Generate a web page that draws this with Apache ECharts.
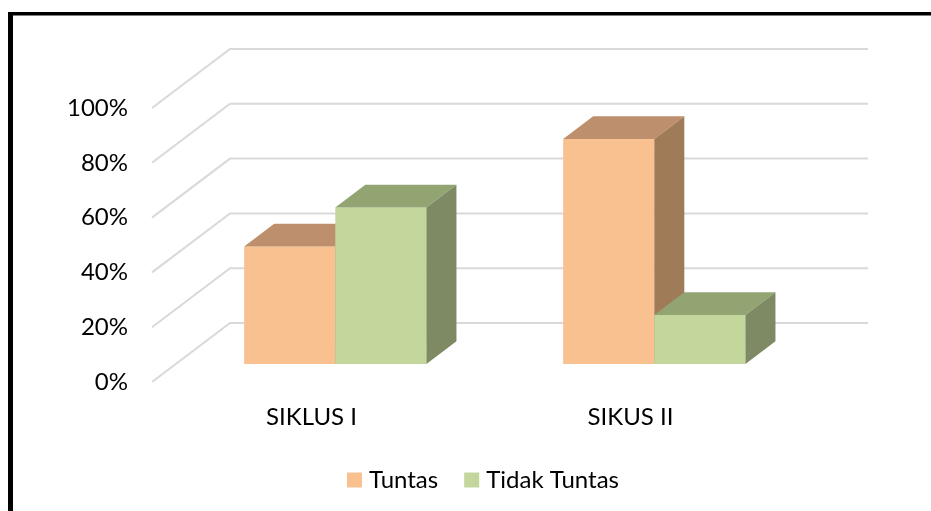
<!DOCTYPE html>
<html>
<head>
<meta charset="utf-8">
<title>Siklus chart</title>
<script src="https://cdn.jsdelivr.net/npm/echarts@6/dist/echarts.min.js"></script>
<style>
  html, body { margin: 0; padding: 0; background: #fff; }
  #chart { width: 931px; height: 511px; }
</style>
</head>
<body>
<div id="chart"></div>
<script>
// data
const categories = ['SIKLUS I', 'SIKUS II'];
const tuntas = [42.86, 82.14];
const tidakTuntas = [57.14, 17.86];
const yTicks = [0, 20, 40, 60, 80, 100];

// 3d look: full depth of the box in px, and where the bars sit inside it
const DEPTH = [78, -59];
const F0 = 0.305, F1 = 0.69;

const colors = {
    tuntas: { front: '#F9C18F', top: '#BE8F6C', side: '#9F7B58' },
    tidak: { front: '#C3D69B', top: '#93A473', side: '#7E8A63' }
};

function wallItem(params, api) {
    const cs = params.coordSys;
    const p = api.coord([0, api.value(1)]);
    const x = cs.x, y = p[1];
    return {
        type: 'polyline',
        shape: { points: [[x, y], [x + DEPTH[0], y + DEPTH[1]], [cs.x + cs.width + DEPTH[0], y + DEPTH[1]]] },
        style: { stroke: '#D9D9D9', lineWidth: 2, fill: null },
        silent: true
    };
}

function barItem(pos, c) {
    return function (params, api) {
        const cat = api.value(0), val = api.value(1);
        const base = api.coord([cat, 0]);
        const top = api.coord([cat, val]);
        const w = api.size([1, 0])[0] / 3.5;
        const ox = DEPTH[0] * F0, oy = DEPTH[1] * F0;
        const dx = DEPTH[0] * (F1 - F0), dy = DEPTH[1] * (F1 - F0);
        const xl = base[0] - w + pos * w + ox, xr = xl + w;
        const yb = base[1] + oy, yt = top[1] + oy;
        return {
            type: 'group',
            children: [
                { type: 'polygon', shape: { points: [[xl, yb], [xr, yb], [xr, yt], [xl, yt]] },
                  style: { fill: c.front } },
                { type: 'polygon', shape: { points: [[xl, yt], [xr, yt], [xr + dx, yt + dy], [xl + dx, yt + dy]] },
                  style: { fill: c.top } },
                { type: 'polygon', shape: { points: [[xr, yb], [xr + dx, yb + dy], [xr + dx, yt + dy], [xr, yt]] },
                  style: { fill: c.side } }
            ]
        };
    };
}

const font = 'Lato';
const chart = echarts.init(document.getElementById('chart'));
chart.setOption({
    animation: false,
    backgroundColor: '#fff',
    textStyle: { fontFamily: font },
    graphic: [
        { type: 'rect', shape: { x: 8, y: 12, width: 5, height: 520 }, style: { fill: '#000' } },
        { type: 'rect', shape: { x: 8, y: 12, width: 940, height: 3.5 }, style: { fill: '#000' } }
    ],
    grid: { left: 152, top: 108, width: 638, height: 274 },
    xAxis: {
        type: 'category',
        data: categories,
        axisLine: { show: false },
        axisTick: { show: false },
        axisLabel: { color: '#000', fontSize: 24, fontFamily: font, margin: 23 }
    },
    yAxis: {
        type: 'value',
        min: 0, max: 100, interval: 20,
        axisLine: { show: false },
        axisTick: { show: false },
        splitLine: { show: false },
        axisLabel: { color: '#000', fontSize: 24, fontFamily: font, margin: 24,
                     padding: [10, 0, 0, 0], formatter: '{value}%' }
    },
    legend: {
        data: ['Tuntas', 'Tidak Tuntas'],
        left: 342, top: 463,
        icon: 'rect', itemWidth: 15, itemHeight: 15, itemGap: 26,
        textStyle: { color: '#000', fontSize: 24, fontFamily: font, padding: [2, 0, 0, 2] }
    },
    series: [
        {
            name: 'walls', type: 'custom', renderItem: wallItem, silent: true,
            data: yTicks.map(t => [0, t]), z: 1
        },
        {
            name: 'Tuntas', type: 'custom', renderItem: barItem(0, colors.tuntas),
            itemStyle: { color: colors.tuntas.front },
            data: tuntas.map((v, i) => [i, v]), z: 2
        },
        {
            name: 'Tidak Tuntas', type: 'custom', renderItem: barItem(1, colors.tidak),
            itemStyle: { color: colors.tidak.front },
            data: tidakTuntas.map((v, i) => [i, v]), z: 3
        }
    ]
});
</script>
</body>
</html>
